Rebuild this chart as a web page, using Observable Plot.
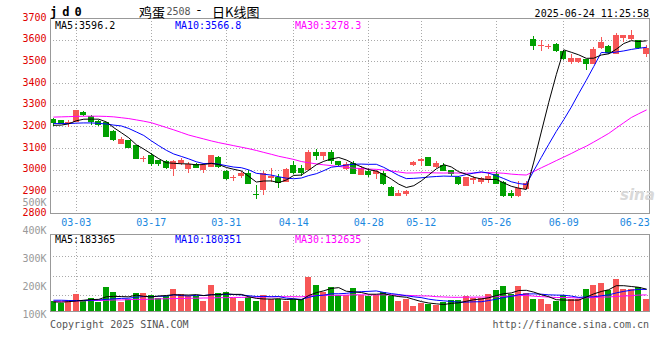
<!DOCTYPE html>
<html><head><meta charset="utf-8">
<script src="https://cdn.jsdelivr.net/npm/d3@7"></script>
<script src="https://cdn.jsdelivr.net/npm/@observablehq/plot@0.6"></script>
<style>
html,body{margin:0;padding:0;background:#fff;overflow:hidden}
#wrap{position:relative;width:660px;height:360px;font-family:'DejaVu Sans Mono',monospace;font-size:10px;color:#000}
.abs{position:absolute;white-space:nowrap;line-height:1}
#main,#vol{position:absolute;left:0}
#main{top:0}
#vol{top:190px}
</style></head><body>
<div id="wrap"><div id="main"></div><div id="vol"></div></div>
<script>
// ---------------- data ----------------
const dates = ["02-26","02-27","02-28",
 "03-03","03-04","03-05","03-06","03-07","03-10","03-11","03-12","03-13","03-14","03-17","03-18","03-19","03-20","03-21","03-24","03-25","03-26","03-27","03-28","03-31",
 "04-01","04-02","04-03","04-07","04-08","04-09","04-10","04-11","04-14","04-15","04-16","04-17","04-18","04-21","04-22","04-23","04-24","04-25","04-28","04-29","04-30",
 "05-06","05-07","05-08","05-09","05-12","05-13","05-14","05-15","05-16","05-19","05-20","05-21","05-22","05-23","05-26","05-27","05-28","05-29","05-30",
 "06-03","06-04","06-05","06-06","06-09","06-10","06-11","06-12","06-13","06-16","06-17","06-18","06-19","06-20","06-23","06-24"];
const opens = [3232,3226,3213,3223,3265,3246,3222,3218,3177,3123, 3135,3110,3051,3064,3043,3038,3006,3034,3006,3023,
 3000,3015,3058,2992,2962,2972,2981,2886,2910,2962, 2966,2946,3020,3007,3000,3080,3066,3077,3038,3007,
 3027,2977,2992,2981,2981,2920,2882,2889,3022,3044, 3058,3015,3020,2997,2966,2928,2956,2946,2954,2977,
 2941,2888,2881,2915,3600,3572,3567,3578,3546,3500, 3497,3508,3492,3566,3569,3535,3609,3605,3594,3535];
const highs = [3240,3228,3228,3277,3269,3254,3227,3222,3181,3150, 3138,3115,3063,3075,3046,3046,3045,3054,3035,3030,
 3030,3070,3065,2997,2974,2992,3000,2930,2992,3007, 2981,3007,3041,3023,3089,3095,3082,3089,3041,3034,
 3038,3015,3007,3000,2992,2926,2904,2904,3038,3054, 3060,3038,3031,3000,2969,2966,2969,2966,2988,2992,
 2946,2908,2946,2946,3615,3597,3582,3585,3551,3532, 3515,3512,3566,3612,3574,3631,3620,3643,3600,3574];
const lows = [3200,3210,3197,3220,3246,3205,3203,3152,3131,3121, 3100,3049,3034,3015,3015,3005,2972,3020,2984,3006,
 2985,3012,3010,2953,2950,2961,2932,2866,2884,2941, 2915,2941,2981,2969,2998,3046,3046,3027,3018,3000,
 2980,2976,2966,2957,2930,2877,2880,2877,3018,3015, 3015,3007,2992,2969,2928,2928,2935,2935,2938,2935,
 2874,2869,2874,2911,3554,3548,3558,3543,3508,3489, 3492,3458,3492,3558,3532,3535,3589,3597,3558,3520];
const closes = [3220,3212,3216,3272,3256,3222,3210,3154,3138,3141, 3103,3052,3053,3027,3030,3010,3038,3043,3023,3009,
 3018,3064,3015,2957,2966,2981,2938,2884,2981,2968, 2941,3000,2989,2989,3080,3066,3080,3043,3023,3023,
 2981,3007,2977,2992,2938,2880,2890,2900,3034,3048, 3018,3030,2997,2982,2935,2962,2960,2958,2969,2938,
 2881,2882,2915,2938,3571,3574,3569,3551,3512,3515, 3514,3489,3554,3585,3543,3620,3620,3620,3566,3558];
const volumes = [148500,141400,153200,173400,148500,160300,144900,199500,180500,144900,
 155600,176900,176900,169800,160300,165100,191200,173400,167400,167400,
 148500,205400,176900,180500,158000,148500,162700,148500,169800,155600,
 155600,148500,155600,155600,233900,205400,181700,198300,169800,169800,
 194700,169800,167400,169800,179300,165100,148500,155600,130700,141400,
 139000,134200,143700,150800,150800,167400,160300,158000,173400,187600,
 201800,173400,201800,176900,155600,155600,137800,148500,169800,155600,
 155600,191200,205400,212500,187600,226700,191200,191200,198300,155600];
const ma5Head = [3207,3208,3214,3228];
const ma10Head = [3215,3215,3215,3217,3218,3218,3216,3213,3208];
const ma30Head = [3245,3246,3247,3248,3249,3249,3249,3248,3246,3242,3238,3232,3226,3219,3208,3197,3186,3174,3162,3153,3144,3135,3127,3120,3113,3106,3099,3091,3082];
const volMa5Head = [147000,146000,148000,150000];
const volMa10Head = [153000,153000,152000,152000,152000,153000,154000,156000,158000];
const volMa30Head = [149000,149000,150000,150000,151000,152000,152000,153000,154000,154000,155000,156000,156000,157000,158000,158000,159000,159000,160000,160000,161000,161000,162000,162000,163000,163000,164000,164000,165000];

const priceTicks = [2800,2900,3000,3100,3200,3300,3400,3500,3600,3700];
const priceGrid = [2900,3000,3100,3200,3300,3400,3500,3600];
const xTickLabels = ["03-03","03-17","03-31","04-14","04-28","05-12","05-26","06-09","06-23"];
const volTicks = [100000,200000,300000,400000,500000];
const volTickLabels = ["100K","200K","300K","400K","500K"];
const volGrid = [169800,238500,310300];
const priceLegend = ["MA5:3596.2","MA10:3566.8","MA30:3278.3"];
const volLegend = ["MA5:183365","MA10:180351","MA30:132635"];
const symbol = "jd0";
const titleName = "鸡蛋", titleCode = "2508", titleDash = "-", titleKind = "日K线图";
const stamp = "2025-06-24 11:25:58";
const copyright = "Copyright 2025 SINA.COM";
const site = "http://finance.sina.com.cn";
const watermark = "sina";

// ---------------- build ----------------
const RED = "#f75656", GREEN = "#00a000", BLUE_TXT = "#1a88e0";
const MONO = "'DejaVu Sans Mono', monospace";
const candles = dates.map((d, i) => ({i, d, o: opens[i], h: highs[i], l: lows[i], c: closes[i], v: volumes[i]}));
const col = d => (d.c >= d.o ? RED : GREEN);
function ma(vals, n, head) {
  return vals.map((v, i) => ({i, v: i < n - 1 ? head[i] : d3.mean(vals.slice(i - n + 1, i + 1))}));
}
const ma5 = ma(closes, 5, ma5Head), ma10 = ma(closes, 10, ma10Head), ma30 = ma(closes, 30, ma30Head);
const vma5 = ma(volumes, 5, volMa5Head), vma10 = ma(volumes, 10, volMa10Head), vma30 = ma(volumes, 30, volMa30Head);
const tickIdx = xTickLabels.map(t => dates.indexOf(t));
const gridIdx = tickIdx.slice(0, -1);
const lastTick = tickIdx[tickIdx.length - 1];
const xDomain = [-0.44, dates.length - 1 + 0.43];
const dotted = {stroke: "#aaa", strokeDasharray: "1,2", shapeRendering: "crispEdges"};

const main = Plot.plot({
  width: 660, height: 232,
  marginTop: 18, marginBottom: 19, marginLeft: 50, marginRight: 11,
  style: {fontFamily: MONO, fontSize: "10px", background: "transparent", overflow: "visible"},
  x: {domain: xDomain, axis: null, label: null},
  y: {domain: [2800, 3700], axis: null, label: null},
  color: {type: "identity"},
  marks: [
    Plot.ruleY(priceGrid, dotted),
    Plot.ruleX(gridIdx, dotted),
    Plot.ruleX(candles, {x: "i", y1: "l", y2: "h", stroke: col, shapeRendering: "crispEdges"}),
    Plot.rect(candles, {x1: d => d.i - 0.33, x2: d => d.i + 0.33, y1: "o", y2: "c", fill: col, stroke: col, shapeRendering: "crispEdges"}),
    Plot.line(ma30, {x: "i", y: "v", stroke: "#ff00ff", strokeWidth: 1}),
    Plot.line(ma10, {x: "i", y: "v", stroke: "#0000ff", strokeWidth: 1}),
    Plot.line(ma5, {x: "i", y: "v", stroke: "#000", strokeWidth: 1}),
    Plot.frame({stroke: "#999"}),
    Plot.axisY({ticks: priceTicks, tickFormat: d => String(d), tickSize: 0, tickPadding: 4, dy: -1, color: "#e00000", label: null}),
    Plot.axisX({ticks: gridIdx, tickFormat: i => dates[i], tickSize: 0, tickPadding: 5, color: BLUE_TXT, label: null}),
    Plot.axisX({ticks: [lastTick], tickFormat: i => dates[i], tickSize: 0, tickPadding: 5, textAnchor: "end", dx: 11, color: BLUE_TXT, label: null})
  ]
});
document.getElementById("main").appendChild(main);

const volTickData = volTicks.map((v, k) => ({v, t: volTickLabels[k]}));
const vol = Plot.plot({
  width: 660, height: 170,
  marginTop: 44, marginBottom: 49, marginLeft: 50, marginRight: 11,
  style: {fontFamily: MONO, fontSize: "10px", background: "transparent", overflow: "visible"},
  x: {domain: xDomain, axis: null, label: null},
  y: {domain: [112900, 386800], axis: null, label: null},
  color: {type: "identity"},
  marks: [
    Plot.ruleY(volGrid, dotted),
    Plot.ruleX(gridIdx, dotted),
    Plot.rectY(candles, {x1: d => d.i - 0.4, x2: d => d.i + 0.4, y: "v", fill: col, clip: true, shapeRendering: "crispEdges"}),
    Plot.line(vma30, {x: "i", y: "v", stroke: "#ff00ff", strokeWidth: 1}),
    Plot.line(vma10, {x: "i", y: "v", stroke: "#0000ff", strokeWidth: 1}),
    Plot.line(vma5, {x: "i", y: "v", stroke: "#000", strokeWidth: 1}),
    Plot.frame({stroke: "#999"}),
    Plot.text(volTickData, {y: "v", text: "t", frameAnchor: "left", textAnchor: "end", dx: -4, fill: "#999"})
  ]
});
document.getElementById("vol").appendChild(vol);

// ---------------- texts ----------------
const wrap = document.getElementById("wrap");
function place(text, css) {
  const el = document.createElement("div");
  el.className = "abs";
  el.textContent = text;
  Object.assign(el.style, css);
  wrap.appendChild(el);
  return el;
}
const CJK = "'Noto Sans CJK SC', sans-serif";
place(symbol, {left: "50px", top: "4.8px", font: "bold 12px " + MONO, letterSpacing: "5px"});
place(titleName, {left: "139px", top: "1.5px", font: "13px " + CJK});
place(titleCode, {left: "166.5px", top: "5.5px", font: "10px " + MONO, color: "#555"});
place(titleDash, {left: "195px", top: "1.5px", font: "13px " + MONO});
place(titleKind, {left: "212px", top: "1.5px", font: "13px " + CJK});
place(stamp, {right: "11px", top: "7.7px", font: "10px " + MONO});
const legendX = ["55px", "175px", "295px"];
const legendC = ["#000", "#0000ff", "#ff00ff"];
priceLegend.forEach((t, k) => place(t, {left: legendX[k], top: "19.5px", font: "10px " + MONO, color: legendC[k]}));
volLegend.forEach((t, k) => place(t, {left: legendX[k], top: "233.8px", font: "10px " + MONO, color: legendC[k]}));
place(copyright, {left: "50px", top: "318.8px", font: "10px " + MONO, color: "#555"});
place(site, {right: "11px", top: "318.8px", font: "10px " + MONO, color: "#555"});
place(watermark, {left: "620px", top: "186px", font: "italic bold 15px 'DejaVu Sans', sans-serif", color: "#d9d9d9"});
</script>
</body></html>
